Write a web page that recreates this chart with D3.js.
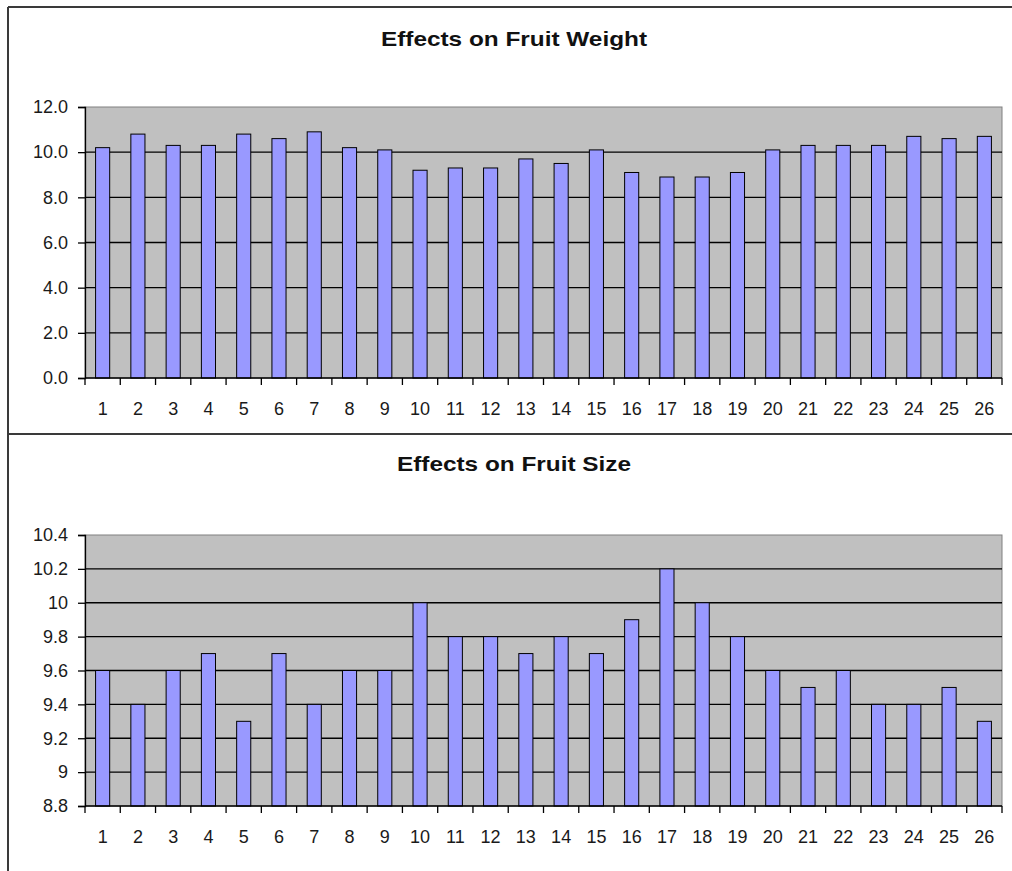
<!DOCTYPE html>
<html>
<head>
<meta charset="utf-8">
<script src="https://cdn.jsdelivr.net/npm/d3@7"></script>
<style>
  html, body { margin: 0; padding: 0; background: #fff; }
  svg { display: block; }
  text { font-family: "Liberation Sans", Arial, sans-serif; }
</style>
</head>
<body>
<svg id="chart" width="1012" height="871"></svg>
<script>
const categories = ["1","2","3","4","5","6","7","8","9","10","11","12","13","14","15","16","17","18","19","20","21","22","23","24","25","26"];
const weightValues = [10.2,10.8,10.3,10.3,10.8,10.6,10.9,10.2,10.1,9.2,9.3,9.3,9.7,9.5,10.1,9.1,8.9,8.9,9.1,10.1,10.3,10.3,10.3,10.7,10.6,10.7];
const sizeValues = [9.6,9.4,9.6,9.7,9.3,9.7,9.4,9.6,9.6,10,9.8,9.8,9.7,9.8,9.7,9.9,10.2,10,9.8,9.6,9.5,9.6,9.4,9.4,9.5,9.3];
const weightTicks = [0,2,4,6,8,10,12];
const sizeTicks = [8.8,9,9.2,9.4,9.6,9.8,10,10.2,10.4];
const titles = ["Effects on Fruit Weight","Effects on Fruit Size"];

const svg = d3.select("#chart");

// frame lines
const frame = svg.append("g").attr("stroke","#3a3a3a").attr("stroke-width",2).attr("fill","none");
frame.append("line").attr("x1",8).attr("x2",1012).attr("y1",7).attr("y2",7);
frame.append("line").attr("x1",8).attr("x2",8).attr("y1",7).attr("y2",871);
frame.append("line").attr("x1",8).attr("x2",1012).attr("y1",434).attr("y2",434);

function drawChart(cfg) {
  const g = svg.append("g");
  const left = 85, right = 1002;
  const x = d3.scaleBand().domain(categories).range([left, right]).paddingInner(0.6).paddingOuter(0.3);
  const y = d3.scaleLinear().domain(cfg.domain).range([cfg.bottom, cfg.top]);

  // title
  g.append("text")
    .attr("transform", `translate(514,${cfg.titleY}) scale(1.16,1)`)
    .attr("text-anchor","middle")
    .attr("font-size","21px").attr("font-weight","bold").attr("fill","#111")
    .text(cfg.title);

  // plot area
  g.append("rect").attr("x",left).attr("y",cfg.top).attr("width",right-left).attr("height",cfg.bottom-cfg.top)
    .attr("fill","#c0c0c0").attr("stroke","#808080").attr("stroke-width",1);

  // gridlines
  g.append("g").selectAll("line").data(cfg.ticks.slice(1, -1)).join("line")
    .attr("x1",left).attr("x2",right)
    .attr("y1",d=>y(d)).attr("y2",d=>y(d))
    .attr("stroke","#000").attr("stroke-width",1.3);

  // bars
  g.append("g").selectAll("rect").data(cfg.values).join("rect")
    .attr("x",(d,i)=>x(categories[i]))
    .attr("width",x.bandwidth())
    .attr("y",d=>y(d))
    .attr("height",d=>cfg.bottom - y(d))
    .attr("fill","#9999ff").attr("stroke","#000").attr("stroke-width",1);

  // y axis
  const ya = g.append("g").attr("transform",`translate(${left},0)`)
    .call(d3.axisLeft(y).tickValues(cfg.ticks).tickFormat(cfg.fmt).tickSize(7).tickPadding(10));
  ya.select(".domain").attr("stroke","#000").attr("stroke-width",1.3);
  ya.selectAll(".tick line").attr("stroke","#000").attr("stroke-width",1.3);
  ya.selectAll(".tick text").attr("font-size","18px").attr("fill","#1a1a1a")
    .attr("font-family","'Liberation Sans', Arial, sans-serif");

  // x axis line
  g.append("line").attr("x1",left).attr("x2",right).attr("y1",cfg.bottom).attr("y2",cfg.bottom)
    .attr("stroke","#000").attr("stroke-width",1.3);
  // x tick marks at category boundaries
  const bounds = d3.range(categories.length + 1).map(i => left + i * x.step());
  g.append("g").selectAll("line").data(bounds).join("line")
    .attr("x1",d=>d).attr("x2",d=>d).attr("y1",cfg.bottom).attr("y2",cfg.bottom+7)
    .attr("stroke","#000").attr("stroke-width",1.3);
  // x labels
  const xa = g.append("g").attr("transform",`translate(0,${cfg.bottom})`)
    .call(d3.axisBottom(x).tickSize(0).tickPadding(24));
  xa.select(".domain").remove();
  xa.selectAll(".tick text").attr("font-size","18px").attr("fill","#1a1a1a")
    .attr("font-family","'Liberation Sans', Arial, sans-serif");
}

drawChart({ title: titles[0], titleY: 46, top: 107, bottom: 378, domain: [0, 12],
  ticks: weightTicks, values: weightValues, fmt: d3.format(".1f") });
drawChart({ title: titles[1], titleY: 471, top: 535, bottom: 806, domain: [8.8, 10.4],
  ticks: sizeTicks, values: sizeValues, fmt: d3.format("~g") });
</script>
</body>
</html>
